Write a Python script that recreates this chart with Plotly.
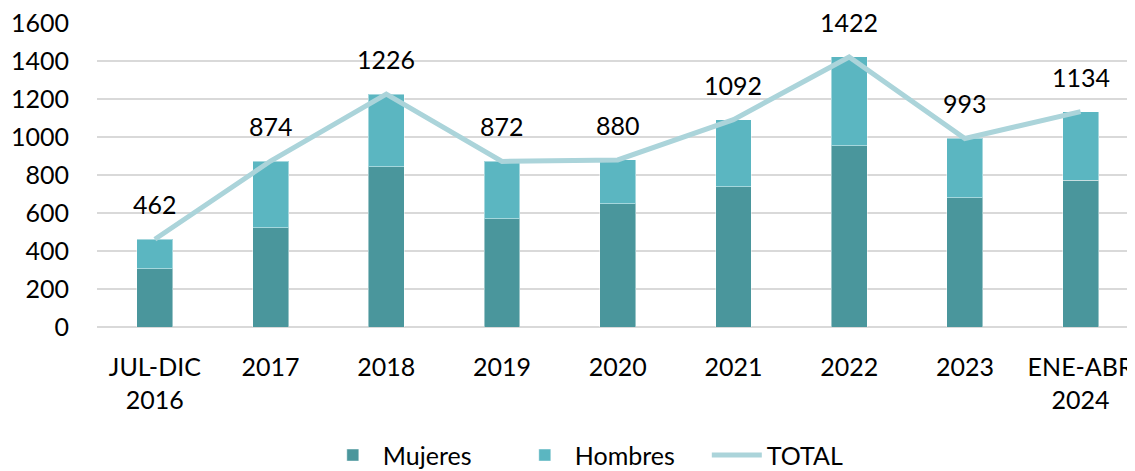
import plotly.graph_objects as go

categories = ["JUL-DIC<br>2016", "2017", "2018", "2019", "2020", "2021", "2022", "2023", "ENE-ABR<br>2024"]
mujeres = [308, 522, 844, 570, 649, 738, 955, 680, 772]
total = [462, 874, 1226, 872, 880, 1092, 1422, 993, 1134]
hombres = [t - m for t, m in zip(total, mujeres)]

FONT = "Lato"
FS = 25
fig = go.Figure()
fig.add_trace(go.Bar(x=categories, y=mujeres, name="Mujeres", marker=dict(color="#4A969C", line=dict(color="rgba(255,255,255,0.45)", width=1)), width=0.31))
fig.add_trace(go.Bar(x=categories, y=hombres, name="Hombres", marker=dict(color="#5BB6C1", line=dict(color="rgba(255,255,255,0.45)", width=1)), width=0.31))
fig.add_trace(go.Scatter(x=categories, y=total, name="TOTAL", mode="lines", line=dict(color="#ABD4DA", width=5)))

for i, t in enumerate(total):
    fig.add_annotation(x=i, y=t, xref="x", yref="y", text=str(t), showarrow=False, yshift=35, yanchor="middle",
                       font=dict(family=FONT, size=FS, color="#000"))

fig.update_layout(
    width=1127, height=463,
    barmode="stack",
    plot_bgcolor="white", paper_bgcolor="white",
    margin=dict(l=89, r=0, t=15, b=144, autoexpand=False),
    font=dict(family=FONT, size=FS, color="#000"),
    showlegend=True,
    legend=dict(orientation="h", x=0.495, xanchor="center", y=-0.422, yanchor="middle",
                font=dict(family=FONT, size=FS), traceorder="normal", itemwidth=50,
                entrywidth=127, entrywidthmode="pixels"),
    xaxis=dict(range=[-0.5, 8.47], showgrid=False, showline=False, ticks="", tickangle=0,
               ticklabelstandoff=23, tickfont=dict(family=FONT, size=FS)),
    yaxis=dict(range=[0, 1601], tickvals=[0, 200, 400, 600, 800, 1000, 1200, 1400, 1600],
               showgrid=True, gridcolor="#D9D9D9", gridwidth=1.5, ticklabeloverflow="allow",
               zeroline=True, zerolinecolor="#D9D9D9", zerolinewidth=1.5, ticks="",
               ticklabelstandoff=27, tickfont=dict(family=FONT, size=FS)),
)
fig.write_html("out.html")
